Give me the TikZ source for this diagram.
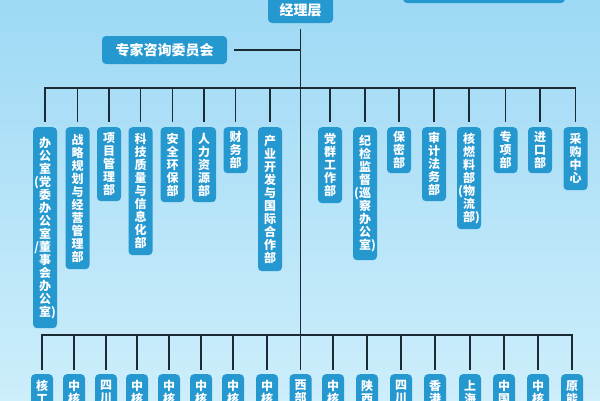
\documentclass[tikz,border=0pt]{standalone}
\usepackage{fontspec}
\newfontfamily\cjk{Noto Sans CJK SC}
\definecolor{bgtop}{HTML}{9ED9F5}
\definecolor{bgbot}{HTML}{CDEEFB}
\definecolor{boxblue}{HTML}{2598CF}
\definecolor{linec}{HTML}{1C2A36}
\tikzset{
  bluebox/.style={fill=boxblue, rounded corners=4pt, text=white, inner sep=0pt, align=center},
  dept/.style={bluebox, anchor=north, minimum width=24pt, font=\cjk\bfseries\fontsize{12}{13}\selectfont},
  subco/.style={bluebox, anchor=north, minimum width=22pt, minimum height=36pt, font=\cjk\bfseries\fontsize{12}{13}\selectfont},
  head/.style={bluebox, font=\cjk\bfseries\fontsize{14}{16}\selectfont},
  conn/.style={draw=linec, line width=1.7pt, line cap=rect},
}
\begin{document}
\begin{tikzpicture}[x=1pt,y=-1pt]
\useasboundingbox (0,0) rectangle (600,400);
\clip (0,0) rectangle (600,400);
\shade[top color=bgtop, bottom color=bgbot] (0,0) rectangle (600,400);

% top boxes
\node[bluebox, minimum width=162pt, minimum height=26pt] (tr) at (484,-10) {};
\node[head, minimum width=65pt, minimum height=26pt] (jl) at (300.5,10) {经理层};
\node[head, minimum width=125pt, minimum height=28pt] (zj) at (164.5,50) {专家咨询委员会};

% departments
\node[dept, minimum height=201pt] (d1) at (45,127) {办\\公\\室\\\llap{(}党\\委\\办\\公\\室\\\llap{/}董\\事\\会\\办\\公\\室\rlap{)}};
\node[dept, minimum height=142pt] (d2) at (77.5,127) {战\\略\\规\\划\\与\\经\\营\\管\\理\\部};
\node[dept, minimum height=74pt] (d3) at (109,127) {项\\目\\管\\理\\部};
\node[dept, minimum height=128pt] (d4) at (140.5,127) {科\\技\\质\\量\\与\\信\\息\\化\\部};
\node[dept, minimum height=75pt] (d5) at (172.5,127) {安\\全\\环\\保\\部};
\node[dept, minimum height=75pt] (d6) at (204,127) {人\\力\\资\\源\\部};
\node[dept, minimum height=46pt] (d7) at (235.5,127) {财\\务\\部};
\node[dept, minimum height=144pt] (d8) at (270,127) {产\\业\\开\\发\\与\\国\\际\\合\\作\\部};
\node[dept, minimum height=76pt] (d9) at (330,127) {党\\群\\工\\作\\部};
\node[dept, minimum height=133pt] (d10) at (365,127) {纪\\检\\监\\督\\\llap{(}巡\\察\\办\\公\\室\rlap{)}};
\node[dept, minimum height=46pt] (d11) at (399,127) {保\\密\\部};
\node[dept, minimum height=74pt] (d12) at (434,127) {审\\计\\法\\务\\部};
\node[dept, minimum height=102pt] (d13) at (469,127) {核\\燃\\料\\部\\\llap{(}物\\流\\部\rlap{)}};
\node[dept, minimum height=46pt] (d14) at (505.5,127) {专\\项\\部};
\node[dept, minimum height=46pt] (d15) at (540,127) {进\\口\\部};
\node[dept, minimum height=63pt] (d16) at (575.5,127) {采\\购\\中\\心};

% subsidiaries
\node[subco] (s1) at (42,374) {核\\工};
\node[subco] (s2) at (74,374) {中\\核};
\node[subco] (s3) at (106,374) {四\\川};
\node[subco] (s4) at (137,374) {中\\核};
\node[subco] (s5) at (169,374) {中\\核};
\node[subco] (s6) at (201,374) {中\\核};
\node[subco] (s7) at (233,374) {中\\核};
\node[subco] (s8) at (267,374) {中\\核};
\node[subco] (s9) at (300.5,374) {西\\部};
\node[subco] (s10) at (333,374) {中\\核};
\node[subco] (s11) at (367,374) {陕\\西};
\node[subco] (s12) at (401,374) {四\\川};
\node[subco] (s13) at (435,374) {香\\港};
\node[subco] (s14) at (470,374) {上\\海};
\node[subco] (s15) at (504,374) {中\\国};
\node[subco] (s16) at (538,374) {中\\核};
\node[subco] (s17) at (572,374) {原\\能};

% connectors
\coordinate (tb) at (300.5,88);
\coordinate (bb) at (300.5,335);
\draw[conn] ([yshift=-7pt]jl.south) -- ([yshift=5pt]s9.north);
\draw[conn] ([xshift=8pt]zj.east) -- (zj.east -| jl.south);
\draw[conn] (d1.north |- tb) -- (d16.north |- tb);
\foreach \i in {1,...,16} \draw[conn] (d\i.north |- tb) -- ([yshift=6pt]d\i.north);
\draw[conn] (s1.north |- bb) -- (s17.north |- bb);
\foreach \i in {1,...,8,10,11,...,17} \draw[conn] (s\i.north |- bb) -- ([yshift=5pt]s\i.north);
\end{tikzpicture}
\end{document}
